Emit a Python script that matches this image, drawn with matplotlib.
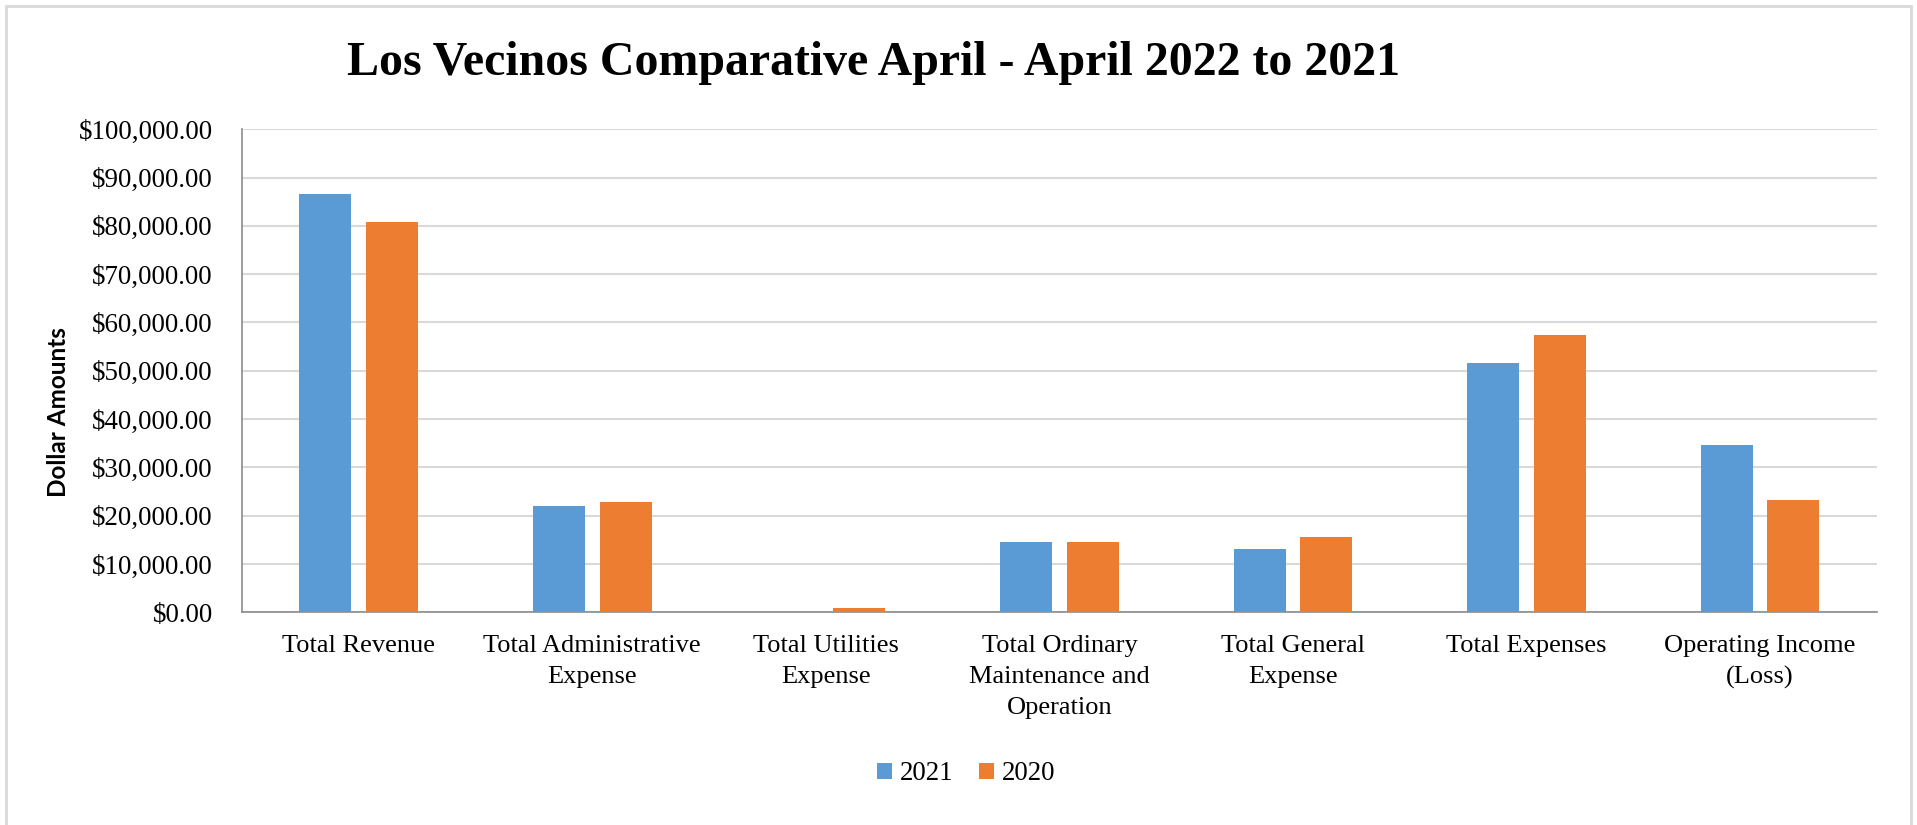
import matplotlib
matplotlib.use("Agg")
import matplotlib.pyplot as plt
import numpy as np
from matplotlib.patches import Rectangle
from matplotlib.ticker import FuncFormatter

CATEGORIES = [
    "Total Revenue",
    "Total Administrative\nExpense",
    "Total Utilities\nExpense",
    "Total Ordinary\nMaintenance and\nOperation",
    "Total General\nExpense",
    "Total Expenses",
    "Operating Income\n(Loss)",
]
VALUES_2021 = [86500, 22100, 100, 14500, 13100, 51700, 34600]
VALUES_2020 = [80900, 22900, 900, 14550, 15650, 57350, 23300]
SERIES_NAMES = ["2021", "2020"]
Y_TICKS = list(range(0, 100001, 10000))

BLUE = "#5B9BD5"
ORANGE = "#ED7D31"
GRID = "#D9D9D9"
SERIF = "Liberation Serif"

fig = plt.figure(figsize=(19.17, 8.25), dpi=100)
ax = fig.add_axes([0.1262, 0.2578, 0.9791 - 0.1262, 0.8433 - 0.2578])

x = np.arange(len(CATEGORIES))
w = 0.223
off = 0.1425
ax.bar(x - off, VALUES_2021, width=w, color=BLUE, label=SERIES_NAMES[0], zorder=3)
ax.bar(x + off, VALUES_2020, width=w, color=ORANGE, label=SERIES_NAMES[1], zorder=3)

ax.set_xlim(-0.5, len(CATEGORIES) - 0.5)
ax.set_ylim(0, 100000)
ax.set_yticks(Y_TICKS)
ax.yaxis.set_major_formatter(FuncFormatter(lambda v, _: f"${v:,.2f}"))
ax.set_xticks(x)
ax.set_xticklabels(CATEGORIES, fontfamily=SERIF, fontsize=19, linespacing=1.55, va="top")
for lab in ax.get_yticklabels():
    lab.set_fontfamily(SERIF)
    lab.set_fontsize(19.4)
ax.tick_params(axis="both", length=0)
ax.tick_params(axis="x", pad=16)
ax.tick_params(axis="y", pad=21)

ax.grid(axis="y", color=GRID, linewidth=1.5, zorder=0)
for side in ("top", "right"):
    ax.spines[side].set_visible(False)
ax.spines["left"].set_color("#8C8C8C")
ax.spines["bottom"].set_color("#8C8C8C")
ax.spines["left"].set_linewidth(1.2)
ax.spines["bottom"].set_linewidth(1.2)

ax.set_ylabel("Dollar Amounts", fontfamily="Lato", fontweight="bold", fontsize=17.5, va="center")
ax.yaxis.set_label_coords(58 / 1917, 0.5, transform=fig.transFigure)

fig.text(874 / 1917, 1 - 63 / 825, "Los Vecinos Comparative April - April 2022 to 2021",
         fontfamily=SERIF, fontweight="bold", fontsize=34.5, ha="center", va="center")

leg = fig.legend(loc="center", bbox_to_anchor=(966 / 1917, 1 - 774 / 825), ncol=2,
                 frameon=False, prop={"family": SERIF, "size": 19.4},
                 handlelength=0.55, handleheight=0.55, handletextpad=0.3, columnspacing=0.95)

fig.patches.append(Rectangle((6 / 1917, -0.1), (1911 - 6) / 1917, 1.1 - 6 / 825,
                             transform=fig.transFigure, fill=False,
                             edgecolor=GRID, linewidth=2))

fig.savefig("out.png", dpi=100, facecolor="white")
